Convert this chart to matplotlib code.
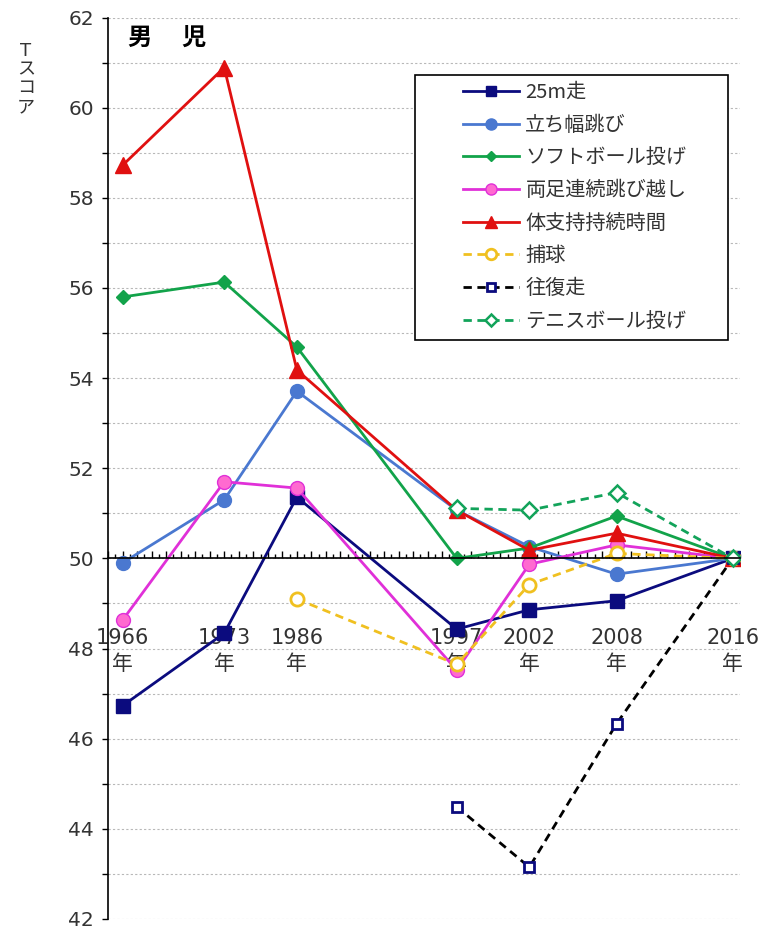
import matplotlib
matplotlib.use("Agg")
import matplotlib.pyplot as plt
import numpy as np
from matplotlib.patches import Rectangle
from matplotlib.ticker import MultipleLocator

plt.rcParams["font.family"] = ["DejaVu Sans", "Noto Sans CJK JP"]

W, H = 764, 932

# survey years and their slot on the (unevenly spaced) horizontal axis
years = ["1966", "1973", "1986", "1997", "2002", "2008", "2016"]
slots = [0, 14, 24, 46, 56, 68, 84]

nan = np.nan
run_25m = [46.73, 48.34, 51.36, 48.43, 48.86, 49.06, 50.0]
standing_jump = [49.9, 51.3, 53.71, 51.07, 50.26, 49.65, 50.0]
softball = [55.8, 56.13, 54.69, 50.0, 50.23, 50.94, 50.0]
hop_over = [48.63, 51.7, 51.56, 47.52, 49.87, 50.3, 50.0]
body_support = [58.72, 60.89, 54.18, 51.07, 50.18, 50.56, 50.0]
catching = [nan, nan, 49.1, 47.65, 49.42, 50.11, 50.0]
shuttle_run = [nan, nan, nan, 44.49, 43.15, 46.33, 50.0]
tennis_ball = [nan, nan, nan, 51.11, 51.07, 51.46, 50.0]

dash = (0, (3, 2))
series = [
    ("25m走", run_25m, dict(color="#0b0b7e", marker="s", ms=9.5, mfc="#0b0b7e", mec="#0b0b7e")),
    ("立ち幅跳び", standing_jump, dict(color="#4a78d0", marker="o", ms=10, mfc="#4a78d0", mec="#4a78d0")),
    ("ソフトボール投げ", softball, dict(color="#12a34a", marker="D", ms=7, mfc="#12a34a", mec="#12a34a")),
    ("両足連続跳び越し", hop_over, dict(color="#e030d8", marker="o", ms=10, mfc="#ff6ad0", mec="#e030d8")),
    ("体支持持続時間", body_support, dict(color="#e01010", marker="^", ms=11, mfc="#e01010", mec="#e01010")),
    ("捕球", catching, dict(color="#f0c020", marker="o", ms=9.5, mfc="white", mec="#f0c020", mew=2, ls=dash)),
    ("往復走", shuttle_run, dict(color="black", marker="s", ms=7, mfc="white", mec="#0b0b7e", mew=2, ls=dash)),
    ("テニスボール投げ", tennis_ball, dict(color="#12a35a", marker="D", ms=8, mfc="white", mec="#12a35a", mew=1.8, ls=dash)),
]

fig = plt.figure(figsize=(W / 100, H / 100), dpi=100)
ax = fig.add_axes([108 / W, 1 - 919 / H, 632 / W, 901.5 / H])

for label, values, style in series:
    ax.plot(slots, values, label=label, lw=2, **style)

ax.set_xlim(-2, 85)
ax.set_ylim(42, 62)

# horizontal gridlines every 1 point
ax.yaxis.set_major_locator(MultipleLocator(2))
ax.yaxis.set_minor_locator(MultipleLocator(1))
ax.grid(axis="y", which="both", color="#b8b8b8", ls=(0, (2, 2)), lw=0.8)
ax.set_axisbelow(True)
ax.tick_params(axis="y", which="both", direction="out", length=4, width=1,
               labelsize=14.5, pad=6, labelcolor="#333333")

for side in ("top", "right"):
    ax.spines[side].set_visible(False)
ax.spines["left"].set_linewidth(1.2)
ax.spines["bottom"].set_position(("data", 50))
ax.spines["bottom"].set_linewidth(1.2)

# small ticks along the 50 line
ax.xaxis.set_major_locator(MultipleLocator(2))
ax.xaxis.set_minor_locator(MultipleLocator(1))
ax.tick_params(axis="x", which="major", direction="in", length=5, width=1, labelbottom=False)
ax.tick_params(axis="x", which="minor", direction="in", length=3, width=1)

# year labels under the 50 line
sec = ax.secondary_xaxis(0.4)
sec.spines["bottom"].set_visible(False)
sec.set_xticks(slots)
sec.set_xticklabels([y + "\n年" for y in years], linespacing=1.4)
sec.tick_params(axis="x", length=0, pad=50, labelsize=15, labelcolor="#333333")

fig.text(128 / W, 1 - 38 / H, "男\u3000 児", fontsize=17.5, fontweight="bold",
         family="Noto Sans CJK JP", va="center", ha="left")
fig.text(26 / W, 1 - 79 / H, "T\nス\nコ\nア", fontsize=13, color="#333333",
         ha="center", va="center", linespacing=1.05)

# legend: entries without frame, frame drawn to the reference's box
leg = ax.legend(loc="upper left", bbox_to_anchor=(463 / W, 1 - 82 / H),
                bbox_transform=fig.transFigure, frameon=False, markerscale=0.8,
                handlelength=2.8, handletextpad=0.3, labelspacing=0.58,
                borderpad=0, borderaxespad=0,
                prop={"family": "Noto Sans CJK JP", "size": 14.5})
for text in leg.get_texts():
    text.set_color("#333333")
leg.set_zorder(6)
ax.add_patch(Rectangle((415 / W, 1 - 340 / H), 313 / W, 265 / H,
                       transform=fig.transFigure, clip_on=False, facecolor="white",
                       edgecolor="black", lw=1.2, zorder=5))

fig.savefig("out.png", dpi=100)
